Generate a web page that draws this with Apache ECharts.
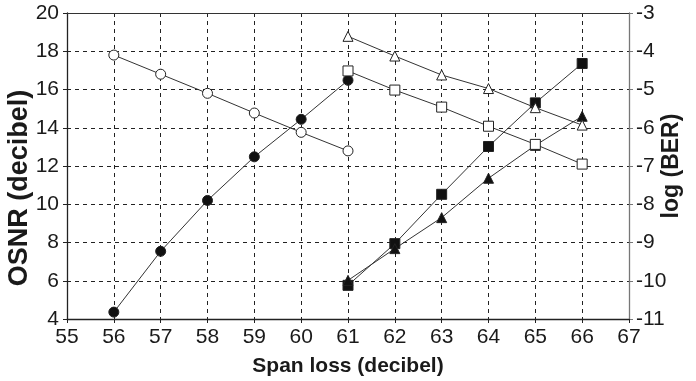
<!DOCTYPE html>
<html>
<head>
<meta charset="utf-8">
<script src="https://cdn.jsdelivr.net/npm/echarts@6/dist/echarts.min.js"></script>
<style>
  html, body { margin: 0; padding: 0; background: #fff; }
  #chart { width: 696px; height: 381px; }
</style>
</head>
<body>
<div id="chart"></div>
<script>
// Span loss points for the two measurement runs
const spanLossA = [56, 57, 58, 59, 60, 61];
const spanLossB = [61, 62, 63, 64, 65, 66];

// OSNR (decibel), left axis
const osnrCircle   = [17.8, 16.8, 15.8, 14.77, 13.76, 12.79];
const osnrTriangle = [18.78, 17.75, 16.76, 16.05, 15.05, 14.14];
const osnrSquare   = [16.97, 15.97, 15.08, 14.08, 13.13, 12.1];

// log (BER), right axis
const berCircle   = [-10.82, -9.23, -7.9, -6.76, -5.78, -4.76];
const berSquare   = [-10.12, -9.03, -7.74, -6.49, -5.35, -4.32];
const berTriangle = [-9.99, -9.16, -8.35, -7.32, -6.46, -5.7];

// Axis ranges
const xRange = { min: 55, max: 67, interval: 1 };
const osnrRange = { min: 4, max: 20, interval: 2 };
const berRange = { min: -11, max: -3, interval: 1 };

const FONT = '"Liberation Sans", Arial, sans-serif';
const INK = '#1a1a1a';

function pairs(xs, ys) {
  return xs.map((x, i) => [x, ys[i]]);
}

function makeSeries(xs, ys, symbol, filled, yAxisIndex) {
  return {
    type: 'line',
    data: pairs(xs, ys),
    yAxisIndex: yAxisIndex,
    symbol: symbol,
    symbolSize: 10,
    showAllSymbol: true,
    lineStyle: { color: '#333', width: 1 },
    itemStyle: {
      color: filled ? '#111' : '#fff',
      borderColor: '#222',
      borderWidth: 1
    },
    emphasis: { disabled: true },
    animation: false,
    z: filled ? 3 : 4
  };
}

const dashed = { show: true, lineStyle: { type: [4, 4], color: '#222', width: 1 } };

const chart = echarts.init(document.getElementById('chart'), null, { renderer: 'canvas' });
chart.setOption({
  animation: false,
  backgroundColor: '#fff',
  grid: {
    left: 67, right: 67, top: 13, bottom: 62,
    containLabel: false,
    outerBoundsMode: 'none'
  },
  xAxis: [
    {
      type: 'value',
      min: xRange.min, max: xRange.max, interval: xRange.interval,
      name: 'Span loss (decibel)',
      nameLocation: 'middle',
      nameGap: 37,
      nameMoveOverlap: false,
      nameTextStyle: { fontFamily: FONT, fontWeight: 'bold', fontSize: 21, color: INK },
      axisLine: { show: true, lineStyle: { color: '#222', width: 1.3 } },
      axisTick: { show: true, length: 4, inside: false, lineStyle: { color: '#222' } },
      axisLabel: { fontFamily: FONT, fontSize: 21, color: INK, margin: 8 },
      splitLine: dashed
    },
    {
      type: 'value',
      position: 'top',
      min: xRange.min, max: xRange.max, interval: xRange.interval,
      axisLine: { show: true, lineStyle: { color: '#333', width: 1 } },
      axisTick: { show: false },
      axisLabel: { show: false },
      splitLine: { show: false }
    }
  ],
  yAxis: [
    {
      type: 'value',
      position: 'left',
      min: osnrRange.min, max: osnrRange.max, interval: osnrRange.interval,
      name: 'OSNR (decibel)',
      nameLocation: 'middle',
      nameGap: 34,
      nameRotate: 90,
      nameMoveOverlap: false,
      // right padding in the rotated frame nudges the title down the axis
      nameTextStyle: { fontFamily: FONT, fontWeight: 'bold', fontSize: 27, color: INK, padding: [0, 44, 0, 0] },
      axisLine: { show: true, lineStyle: { color: '#222', width: 1.3 } },
      axisTick: { show: true, length: 4, lineStyle: { color: '#222' } },
      axisLabel: { fontFamily: FONT, fontSize: 21, color: INK, margin: 8 },
      splitLine: dashed
    },
    {
      type: 'value',
      position: 'right',
      min: berRange.min, max: berRange.max, interval: berRange.interval,
      name: 'log (BER)',
      nameLocation: 'middle',
      nameGap: 31,
      nameRotate: 90,
      nameMoveOverlap: false,
      nameTextStyle: { fontFamily: FONT, fontWeight: 'bold', fontSize: 23, color: INK },
      axisLine: { show: true, lineStyle: { color: '#777', width: 1.3 } },
      axisTick: { show: true, length: 4, lineStyle: { color: '#777' } },
      axisLabel: { fontFamily: FONT, fontSize: 21, color: INK, margin: 7 },
      splitLine: { show: false }
    }
  ],
  series: [
    makeSeries(spanLossA, osnrCircle, 'circle', false, 0),
    makeSeries(spanLossA, berCircle, 'circle', true, 1),
    makeSeries(spanLossB, osnrTriangle, 'triangle', false, 0),
    makeSeries(spanLossB, osnrSquare, 'rect', false, 0),
    makeSeries(spanLossB, berSquare, 'rect', true, 1),
    makeSeries(spanLossB, berTriangle, 'triangle', true, 1)
  ]
});
</script>
</body>
</html>
